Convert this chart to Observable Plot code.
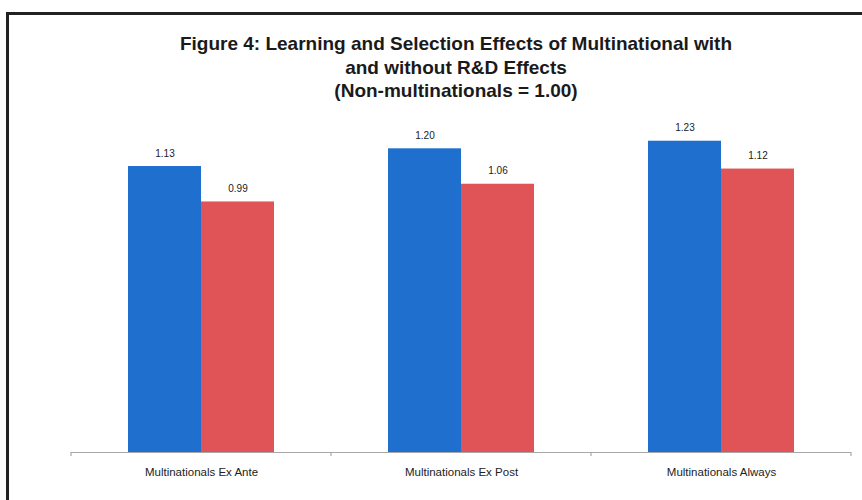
<!DOCTYPE html>
<html>
<head>
<meta charset="utf-8">
<script src="https://cdn.jsdelivr.net/npm/d3@7"></script>
<script src="https://cdn.jsdelivr.net/npm/@observablehq/plot@0.6"></script>
<style>
  html, body { margin: 0; padding: 0; background: #fff; }
  body { width: 862px; height: 500px; overflow: hidden; position: relative; }
  #frame { position: absolute; left: 6px; top: 12px; width: 900px; height: 600px;
           border-top: 3px solid #222; border-left: 3px solid #222; }
  #title { position: absolute; top: 32px; left: 0; width: 912px; text-align: center;
           font-family: "Liberation Sans", Arial, sans-serif; font-weight: bold;
           font-size: 19px; line-height: 23.5px; color: #1a1a1a; }
  #chart { position: absolute; top: 105px; left: 0; }
</style>
</head>
<body>
<div id="frame"></div>
<div id="title">Figure 4: Learning and Selection Effects of Multinational with<br>and without R&amp;D Effects<br>(Non-multinationals = 1.00)</div>
<div id="chart"></div>
<script>
const categories = ["Multinationals Ex Ante", "Multinationals Ex Post", "Multinationals Always"];
const series = ["With R&D", "Without R&D"];
const withRD = [1.13, 1.20, 1.23];
const withoutRD = [0.99, 1.06, 1.12];
const colors = ["#1f6fcf", "#e05457"];

const data = [];
categories.forEach((c, i) => {
  data.push({category: c, series: series[0], value: withRD[i]});
  data.push({category: c, series: series[1], value: withoutRD[i]});
});

const plot = Plot.plot({
  width: 862,
  height: 395,
  marginLeft: 70,
  marginRight: 11,
  marginTop: 18,
  marginBottom: 48,
  style: {fontFamily: "'Liberation Sans Narrow', 'Liberation Sans', sans-serif", fontSize: "11.5px", color: "#222", background: "transparent"},
  fx: {domain: categories, padding: 0, axis: "bottom", label: null, tickSize: 0, tickPadding: 15},
  x: {domain: series, axis: null, paddingInner: 0, paddingOuter: 0.757},
  y: {domain: [0, 1.3], axis: null},
  color: {domain: series, range: colors},
  marks: [
    Plot.barY(data, {fx: "category", x: "series", y: "value", fill: "series"}),
    Plot.text(data, {fx: "category", x: "series", y: "value", text: d => d.value.toFixed(2), dy: -13, fontSize: 10, fill: "#222"}),
    Plot.ruleY([0], {stroke: "#a8a8a8", strokeWidth: 1.2})
  ]
});

document.getElementById("chart").appendChild(plot);

// boundary tick marks at the band edges of the fx scale
const fx = plot.scale("fx");
const yS = plot.scale("y");
const edges = categories.map(c => fx.apply(c)).concat([fx.apply(categories[categories.length - 1]) + fx.bandwidth]);
const y0 = yS.apply(0);
d3.select(plot).append("g")
  .attr("stroke", "#a8a8a8")
  .attr("stroke-width", 1.2)
  .selectAll("line")
  .data(edges)
  .join("line")
  .attr("x1", d => d).attr("x2", d => d)
  .attr("y1", y0).attr("y2", y0 + 4);
</script>
</body>
</html>
